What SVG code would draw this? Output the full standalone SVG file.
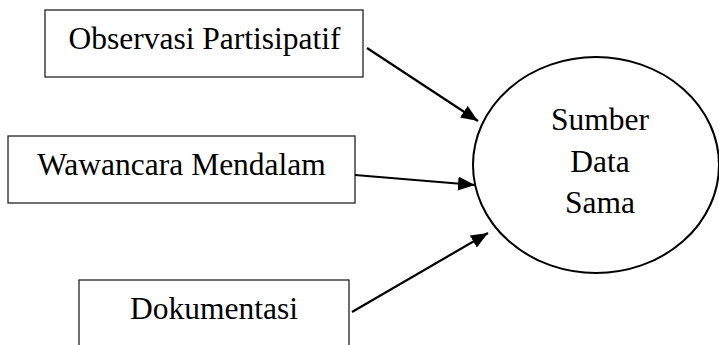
<svg xmlns="http://www.w3.org/2000/svg" width="719" height="345" viewBox="0 0 719 345">
<style>
.box{fill:#fff;stroke:#222;stroke-width:1.3}
.lbl{font-family:"Liberation Serif","Times New Roman",serif;font-size:31.5px;fill:#000;text-anchor:middle}
.conn{stroke:#000;stroke-width:2.2;fill:none}
</style>
<defs>
<marker id="ah" markerUnits="userSpaceOnUse" markerWidth="18" markerHeight="14" refX="17" refY="7" orient="auto">
<path d="M0,0 L17,7 L0,14 z" fill="#000"/>
</marker>
</defs>
<rect width="719" height="345" fill="#fff"/>
<g id="observasi">
<rect class="box" x="45" y="10" width="318" height="67"/>
<text class="lbl" x="204.5" y="49">Observasi Partisipatif</text>
</g>
<g id="wawancara">
<rect class="box" x="8" y="136" width="347" height="67"/>
<text class="lbl" x="181.5" y="175">Wawancara Mendalam</text>
</g>
<g id="dokumentasi">
<rect class="box" x="79" y="280" width="270" height="80"/>
<text class="lbl" x="214" y="319">Dokumentasi</text>
</g>
<g id="sumber">
<ellipse cx="596" cy="165" rx="123" ry="108" fill="#fff" stroke="#000" stroke-width="2"/>
<text class="lbl" x="600" y="130">Sumber</text>
<text class="lbl" x="600" y="172">Data</text>
<text class="lbl" x="600" y="213">Sama</text>
</g>
<g id="connectors">
<line class="conn" x1="367" y1="48" x2="478" y2="121" marker-end="url(#ah)"/>
<line class="conn" x1="355" y1="175" x2="475" y2="185" marker-end="url(#ah)"/>
<line class="conn" x1="352" y1="312" x2="488" y2="233" marker-end="url(#ah)"/>
</g>
</svg>
